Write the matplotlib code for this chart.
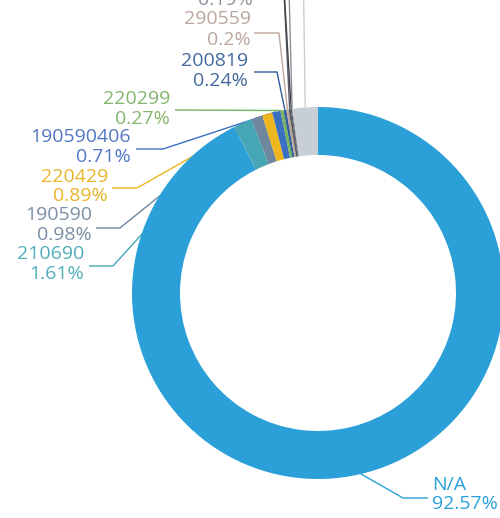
import numpy as np
import matplotlib
matplotlib.use("Agg")
import matplotlib.pyplot as plt

# ---------------- data ----------------
names = ["N/A", "210690", "190590", "220429", "190590406", "220299",
         "200819", "290559", "", "", "", ""]
values = [92.57, 1.61, 0.98, 0.89, 0.71, 0.27, 0.24, 0.2, 0.19, 0.08, 0.07, 2.19]
pct_labels = ["92.57%", "1.61%", "0.98%", "0.89%", "0.71%", "0.27%",
              "0.24%", "0.2%", "0.19%", "", "", ""]

# ---------------- style ----------------
slice_colors = ["#2A9FD8", "#46A6B5", "#6E879F", "#EDB51E", "#3B6FC2", "#77B35A",
                "#2F5D9A", "#BCA79D", "#5A5F66", "#3E434A", "#8C9096", "#C7CED6"]
text_colors = ["#2A9FD8", "#52ADBB", "#7A8FA5", "#E8B52A", "#5277C4", "#84B56C",
               "#43699E", "#BBA69E", "#8A9099", "#3E434A", "#8C9096", "#C7CED6"]

W, H = 500, 518
cx, cy, R, ring = 318, 293, 186, 48

# label layout (pixel coords): text anchor x, name-line y, pct-line y, ha, leader points
layout = [
    dict(x=432, y1=485, y2=504, ha="left", pts=[(403, 498), (428, 498)]),
    dict(x=84, y1=254, y2=274, ha="right", pts=[(113, 266), (89, 266)]),
    dict(x=92, y1=215, y2=235, ha="right", pts=[(120, 228), (96, 228)]),
    dict(x=108, y1=177, y2=196, ha="right", pts=[(137, 188), (112, 188)]),
    dict(x=131, y1=137, y2=157, ha="right", pts=[(163, 149), (136, 149)]),
    dict(x=170, y1=99, y2=119, ha="right", pts=[(175, 110)]),
    dict(x=248, y1=61, y2=81, ha="right", pts=[(277, 72), (254, 72)]),
    dict(x=251, y1=19, y2=40, ha="right", pts=[(279, 33), (254, 33)]),
    dict(x=253, y1=-20, y2=0, ha="right", pts=[(284, -8), (258, -8)]),
    dict(x=None, y1=None, y2=None, ha="right", pts=[(281, -60)]),
    dict(x=None, y1=None, y2=None, ha="right", pts=[(287, -90)]),
    dict(x=None, y1=None, y2=None, ha="right", pts=[(302, -120)]),
]

plt.rcParams["font.family"] = ["Open Sans", "DejaVu Sans"]

fig = plt.figure(figsize=(W / 100, H / 100), dpi=100)
ax = fig.add_axes([0, 0, 1, 1])

wedges, _ = ax.pie(values, colors=slice_colors, startangle=-90, counterclock=True,
                   center=(cx, cy), radius=R,
                   wedgeprops=dict(width=ring, linewidth=0, zorder=3))

ax.set_xlim(0, W)
ax.set_ylim(H, 0)
ax.set_aspect("auto")
ax.axis("off")

total = sum(values)
cum = np.cumsum([0] + values[:-1])
for i, v in enumerate(values):
    mid = (cum[i] + v / 2) / total * 2 * np.pi
    px = cx + R * np.sin(mid)
    py = cy - R * np.cos(mid)
    lay = layout[i]
    xs = [px] + [p[0] for p in lay["pts"]]
    ys = [py] + [p[1] for p in lay["pts"]]
    ax.plot(xs, ys, color=slice_colors[i], lw=1.0, zorder=1, solid_capstyle="butt")
    if lay["x"] is not None:
        if names[i]:
            ax.text(lay["x"], lay["y1"], names[i], color=text_colors[i], fontsize=14,
                    ha=lay["ha"], va="center", zorder=4)
        if pct_labels[i]:
            ax.text(lay["x"], lay["y2"], pct_labels[i], color=text_colors[i], fontsize=14,
                    ha=lay["ha"], va="center", zorder=4)

fig.savefig("out.png", dpi=100)
